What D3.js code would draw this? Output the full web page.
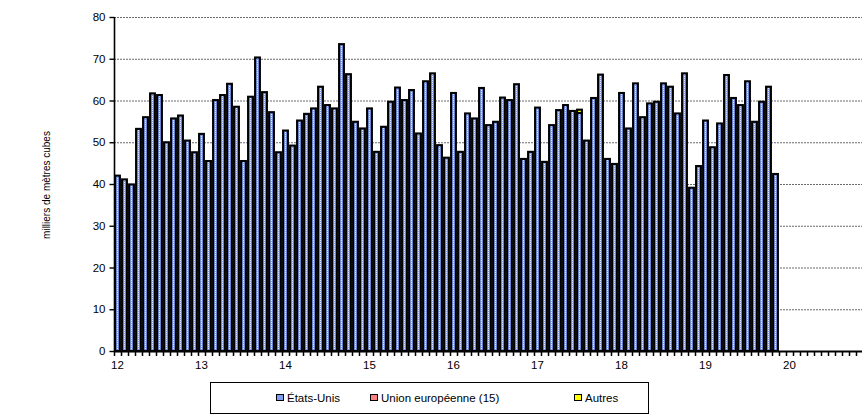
<!DOCTYPE html>
<html>
<head>
<meta charset="utf-8">
<title>milliers de mètres cubes</title>
<script src="https://d3js.org/d3.v7.min.js"></script>
<style>
body { margin: 0; background: #fff; }
svg { display: block; font-family: "Liberation Sans", Arial, sans-serif; }
</style>
</head>
<body>
<svg id="chart"></svg>
<script>
// années affichées sur l'axe (une catégorie par mois)
var annees = ["12", "13", "14", "15", "16", "17", "18", "19", "20"];
var yTicks = [0, 10, 20, 30, 40, 50, 60, 70, 80];

// séries, de janvier 12 à novembre 19
var etatsUnis = [
	42.0, 41.1, 39.9, 53.2, 56.0, 61.7, 61.3, 50.0, 55.7, 56.4, 50.4, 47.6,
	52.0, 45.5, 60.1, 61.3, 64.0, 58.5, 45.5, 60.9, 70.3, 62.0, 57.2, 47.6,
	52.8, 49.2, 55.2, 56.8, 58.1, 63.3, 58.9, 58.1, 73.5, 66.3, 54.9, 53.3,
	58.1, 47.7, 53.7, 59.7, 63.1, 60.1, 62.5, 52.1, 64.6, 66.5, 49.3, 46.3,
	61.8, 47.7, 56.9, 55.7, 63.0, 54.1, 54.9, 60.7, 60.1, 63.9, 46.0, 47.7,
	58.3, 45.3, 54.1, 57.7, 58.9, 57.5, 57.0, 50.4, 60.6, 66.2, 46.0, 44.8,
	61.8, 53.3, 64.1, 56.0, 59.3, 59.7, 64.1, 63.3, 56.9, 66.5, 39.1, 44.3,
	55.2, 48.8, 54.5, 66.1, 60.6, 58.9, 64.6, 54.9, 59.7, 63.3, 42.4
];
var unionEuropeenne = [
	0, 0, 0, 0, 0, 0, 0, 0, 0, 0, 0, 0,
	0, 0, 0, 0, 0, 0, 0, 0, 0, 0, 0, 0,
	0, 0, 0, 0, 0, 0, 0, 0, 0, 0, 0, 0,
	0, 0, 0, 0, 0, 0, 0, 0, 0, 0, 0, 0,
	0, 0, 0, 0, 0, 0, 0, 0, 0, 0, 0, 0,
	0, 0, 0, 0, 0, 0, 0, 0, 0, 0, 0, 0,
	0, 0, 0, 0, 0, 0, 0, 0, 0, 0, 0, 0,
	0, 0, 0, 0, 0, 0, 0, 0, 0, 0, 0
];
var autres = [
	0, 0, 0, 0, 0, 0, 0, 0, 0, 0, 0, 0,
	0, 0, 0, 0, 0, 0, 0, 0, 0, 0, 0, 0,
	0, 0, 0, 0, 0, 0, 0, 0, 0, 0, 0, 0,
	0, 0, 0, 0, 0, 0, 0, 0, 0, 0, 0, 0,
	0, 0, 0, 0, 0, 0, 0, 0, 0, 0, 0, 0,
	0, 0, 0, 0, 0, 0, 0.8, 0, 0, 0, 0, 0,
	0, 0, 0, 0, 0, 0, 0, 0, 0, 0, 0, 0,
	0, 0, 0, 0, 0, 0, 0, 0, 0, 0, 0
];

var series = [
	{ nom: "États-Unis", valeurs: etatsUnis, couleur: "url(#motif-bleu)", legende: "#7f9cf0" },
	{ nom: "Union européenne (15)", valeurs: unionEuropeenne, couleur: "#ff8080", legende: "#ff8080" },
	{ nom: "Autres", valeurs: autres, couleur: "#ffff00", legende: "#ffff00" }
];

var w = 862, h = 415;
var svg = d3.select("#chart").attr("width", w).attr("height", h);

// motif des barres bleues : fond bleu + pointillé blanc au milieu
var defs = svg.append("defs");
var motif = defs.append("pattern")
	.attr("id", "motif-bleu")
	.attr("patternUnits", "userSpaceOnUse")
	.attr("width", 7).attr("height", 2)
	.attr("x", 114);
motif.append("rect").attr("width", 7).attr("height", 2).attr("fill", "#7f9cf0");
motif.append("rect").attr("x", 3).attr("y", 0).attr("width", 1).attr("height", 1).attr("fill", "#e8eeff");

// toutes les catégories mensuelles, y compris celles sans données
var categories = [];
annees.forEach(function(a) { for (var m = 0; m < 12; m++) categories.push(a + "-" + m); });

var x = d3.scaleBand().domain(d3.range(categories.length)).range([114, 870]).padding(0);
var y = d3.scaleLinear().domain([0, 80]).range([351, 17]);

// quadrillage
svg.append("g")
	.selectAll("line")
	.data(yTicks.filter(function(d) { return d > 0; }))
	.enter().append("line")
	.attr("x1", 114).attr("x2", 862)
	.attr("y1", function(d) { return y(d) + 0.5; })
	.attr("y2", function(d) { return y(d) + 0.5; })
	.attr("stroke", "#6a6a6a")
	.attr("stroke-dasharray", "2,1");

// empilement
var lignes = etatsUnis.map(function(v, i) {
	return { i: i, etatsUnis: v, unionEuropeenne: unionEuropeenne[i], autres: autres[i] };
});
var stack = d3.stack().keys(["etatsUnis", "unionEuropeenne", "autres"])(lignes);

svg.append("g")
	.selectAll("g")
	.data(stack)
	.enter().append("g")
	.attr("fill", function(d, k) { return series[k].couleur; })
	.selectAll("rect")
	.data(function(d) { return d.filter(function(p) { return p[1] - p[0] > 0; }); })
	.enter().append("rect")
	.attr("x", function(d) { return x(d.data.i) + 1.1; })
	.attr("width", x.bandwidth() - 2.2)
	.attr("y", function(d) { return y(d[1]); })
	.attr("height", function(d) { return y(d[0]) - y(d[1]); })
	.attr("stroke", "#000")
	.attr("stroke-width", 2.1);

// axe vertical
var yAxis = svg.append("g")
	.attr("transform", "translate(114.5,0)")
	.call(d3.axisLeft(y).tickValues(yTicks).tickSize(5).tickPadding(4));
yAxis.select(".domain").attr("stroke", "#000").attr("stroke-width", 1.6).attr("d", "M-0,17V352");
yAxis.selectAll(".tick line").attr("stroke-width", 1.4);
yAxis.selectAll("text").attr("font-size", 11.5).attr("font-family", "Liberation Sans, Arial, sans-serif").attr("fill", "#000");

// axe horizontal
var xAxis = svg.append("g").attr("transform", "translate(0,351.5)");
xAxis.append("line").attr("x1", 114).attr("x2", 862).attr("stroke", "#000").attr("stroke-width", 1.8);
xAxis.selectAll(".tick")
	.data(d3.range(categories.length + 1))
	.enter().append("line")
	.attr("x1", function(d) { return Math.round(114 + d * x.step()) + 0.5; })
	.attr("x2", function(d) { return Math.round(114 + d * x.step()) + 0.5; })
	.attr("y1", 0).attr("y2", 4.5)
	.attr("stroke", "#000")
	.attr("stroke-width", 1.5);
xAxis.selectAll("text")
	.data(annees)
	.enter().append("text")
	.attr("x", function(d, k) { return x(k * 12) + x.bandwidth() / 2; })
	.attr("y", 17)
	.attr("text-anchor", "middle")
	.attr("font-size", 11.5)
	.text(function(d) { return d; });

// titre de l'axe
svg.append("text")
	.attr("transform", "translate(50,185) rotate(-90)")
	.attr("text-anchor", "middle")
	.attr("font-size", 10)
	.text("milliers de mètres cubes");

// légende
var leg = svg.append("g");
leg.append("rect")
	.attr("x", 210.5).attr("y", 382.5).attr("width", 438).attr("height", 31)
	.attr("fill", "#fff").attr("stroke", "#000");
var posLeg = [276, 370, 574];
var items = leg.selectAll(".item").data(series).enter().append("g")
	.attr("transform", function(d, k) { return "translate(" + posLeg[k] + ",398)"; });
items.append("rect")
	.attr("x", 0.5).attr("y", -3.5).attr("width", 7).attr("height", 6)
	.attr("fill", function(d) { return d.legende; })
	.attr("stroke", "#000");
items.append("text")
	.attr("x", 11).attr("y", 4)
	.attr("font-size", 11.5)
	.text(function(d) { return d.nom; });
</script>
</body>
</html>
